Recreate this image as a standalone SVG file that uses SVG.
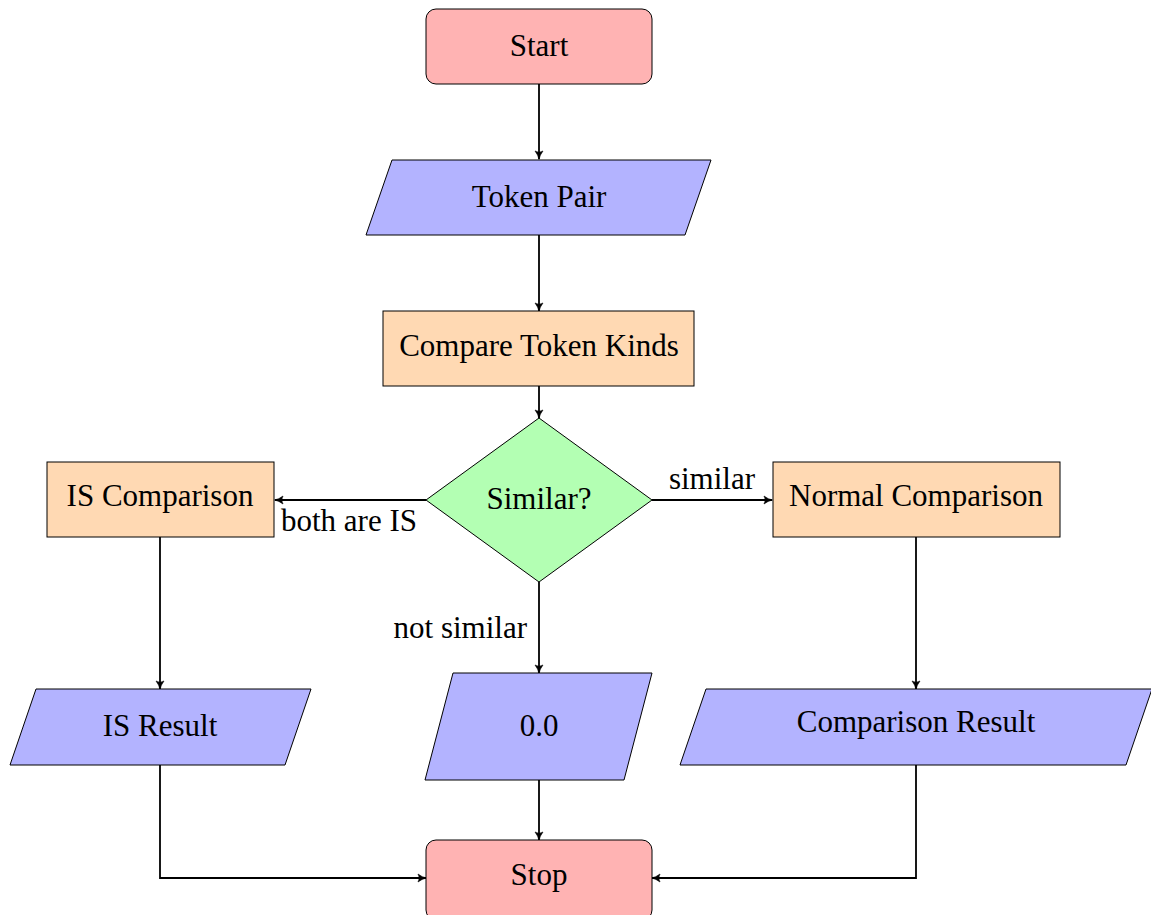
<svg xmlns="http://www.w3.org/2000/svg" width="1151" height="915" viewBox="0 0 1151 915">
<style>
.n{stroke:#000;stroke-width:1}
.term{fill:#ffb3b3}
.io{fill:#b3b3ff}
.proc{fill:#ffd9b3}
.dec{fill:#b3ffb3}
text{font-family:"Liberation Serif","Times New Roman",serif;font-size:31px;fill:#000;text-anchor:middle;dominant-baseline:central}
.c path{fill:none;stroke:#000;stroke-width:1.8;marker-end:url(#ah)}
</style>
<defs>
<marker id="ah" markerWidth="12" markerHeight="12" refX="9" refY="5" orient="auto" markerUnits="userSpaceOnUse">
<path d="M1,1 Q5,4.2 9.5,5 Q5,5.8 1,9 Q3.5,5 1,1 Z" fill="#000" stroke="#000" stroke-width="0.6"/>
</marker>
</defs>
<rect width="1151" height="915" fill="#fff"/>
<g class="c" id="connectors">
<path d="M539,84 V159"/>
<path d="M539,235 V311"/>
<path d="M539,386 V418"/>
<path d="M426,500 H275"/>
<path d="M652,500 H772"/>
<path d="M539,582 V673"/>
<path d="M160,537 V689"/>
<path d="M916,537 V689"/>
<path d="M539,780 V840"/>
<path d="M160,765 V878 H426"/>
<path d="M916,765 V878 H652"/>
</g>
<g id="start"><rect class="n term" x="426" y="9" width="226" height="75" rx="10"/><text x="539" y="45">Start</text></g>
<g id="tokenpair"><polygon class="n io" points="392,160 711,160 685,235 366,235"/><text x="539" y="196">Token Pair</text></g>
<g id="compare"><rect class="n proc" x="383" y="311" width="311" height="75"/><text x="539" y="345">Compare Token Kinds</text></g>
<g id="similar"><polygon class="n dec" points="539,418 652,500 539,582 426,500"/><text x="539" y="498">Similar?</text></g>
<g id="iscomp"><rect class="n proc" x="47" y="462" width="227" height="75"/><text x="160" y="495">IS Comparison</text></g>
<g id="normcomp"><rect class="n proc" x="773" y="462" width="287" height="75"/><text x="916" y="495">Normal Comparison</text></g>
<g id="isresult"><polygon class="n io" points="36,689 311,689 285,765 10,765"/><text x="160" y="725">IS Result</text></g>
<g id="zero"><polygon class="n io" points="453,673 652,673 624,780 425,780"/><text x="539" y="725">0.0</text></g>
<g id="compresult"><polygon class="n io" points="706,689 1152,689 1126,765 680,765"/><text x="916" y="721">Comparison Result</text></g>
<g id="stop"><rect class="n term" x="426" y="840" width="226" height="80" rx="10"/><text x="539" y="874">Stop</text></g>
<g id="labels">
<text x="349" y="520">both are IS</text>
<text x="712" y="478">similar</text>
<text x="527" y="627" style="text-anchor:end">not similar</text>
</g>
</svg>
